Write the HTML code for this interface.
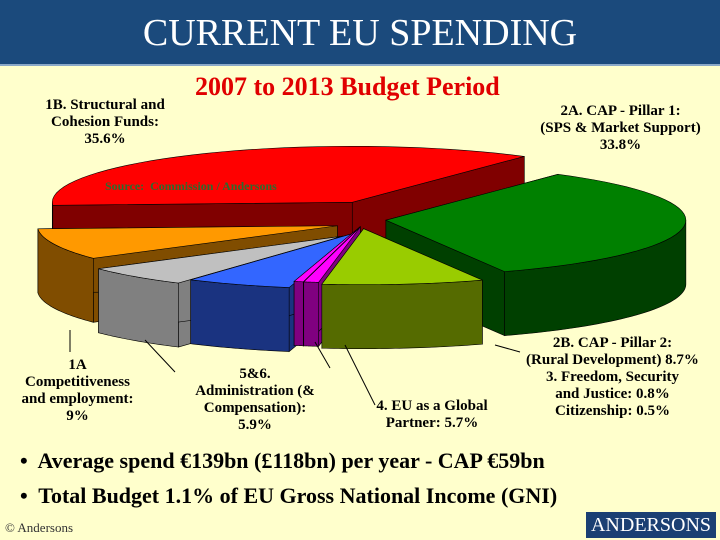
<!DOCTYPE html>
<html><head><meta charset="utf-8"><style>
body{margin:0;width:720px;height:540px;overflow:hidden;background:#ffffcc;font-family:"Liberation Serif",serif;position:relative}
.t{position:absolute;font-weight:bold;color:#000;text-align:center;line-height:17px;font-size:15px}
</style></head><body>
<div style="position:absolute;left:0;top:0;width:720px;height:64px;background:#1b4a7c;border-bottom:2px solid #8aa8c8"></div>
<div style="position:absolute;left:0;top:10px;width:720px;text-align:center;color:#fff;font-size:38px;line-height:46px">CURRENT EU SPENDING</div>
<div style="position:absolute;left:195px;top:72px;color:#e00000;font-weight:bold;font-size:26px">2007 to 2013 Budget Period</div>
<svg id="pie" width="720" height="540" style="position:absolute;left:0;top:0"></svg>
<div class="t" style="left:25px;top:97px;width:160px">1B. Structural and Cohesion Funds:<br>35.6%</div>
<div class="t" style="left:518px;top:103px;width:205px">2A. CAP - Pillar 1:<br>(SPS &amp; Market Support)<br>33.8%</div>
<div style="position:absolute;left:105px;top:179px;color:#2e6a2e;font-weight:bold;font-size:12px">Source:&nbsp; Commission / Andersons</div>
<div class="t" style="left:10px;top:357px;width:135px">1A<br>Competitiveness<br>and employment:<br>9%</div>
<div class="t" style="left:180px;top:366px;width:150px">5&amp;6.<br>Administration (&amp;<br>Compensation):<br>5.9%</div>
<div class="t" style="left:362px;top:398px;width:140px">4. EU as a Global Partner: 5.7%</div>
<div class="t" style="left:505px;top:335px;width:215px">2B. CAP - Pillar 2:<br>(Rural Development) 8.7%<br>3. Freedom, Security<br>and Justice: 0.8%<br>Citizenship: 0.5%</div>
<div style="position:absolute;left:20px;top:448px;font-weight:bold;font-size:22px">•&nbsp; Average spend €139bn (£118bn) per year - CAP €59bn</div>
<div style="position:absolute;left:20px;top:483px;font-weight:bold;font-size:22px">•&nbsp; Total Budget 1.1% of EU Gross National Income (GNI)</div>
<div style="position:absolute;left:5px;top:520px;font-size:13px;color:#333">© Andersons</div>
<div style="position:absolute;left:586px;top:512px;width:130px;height:26px;background:#1b3f73;color:#fff;font-size:20px;text-align:center;line-height:27px">ANDERSONS</div>
<script>
const categories=["CAP Pillar 1","CAP Pillar 2","Freedom Security Justice","Citizenship","Global Partner","Administration","Competitiveness","Structural Cohesion"];
const values=[33.8,8.7,0.8,0.5,5.7,5.9,9,35.6];
const topColors=["#008000","#99cc00","#ff00ff","#ff00ff","#3366ff","#c0c0c0","#ff9900","#ff0000"];
const sideColors=["#004000","#556b00","#800080","#800080","#1a3380","#808080","#804d00","#800000"];
const svg=document.getElementById('pie');const NS="http://www.w3.org/2000/svg";
const cx=362,cy=218,rx=300,ry=56,depth=64,startDeg=-55,explode=[24,12,10,10,18,28,26,20];
const total=values.reduce((a,b)=>a+b,0);
function pt(x0,y0,a,dy){return [x0+rx*Math.cos(a),y0+ry*Math.sin(a)+(dy||0)];}
function poly(pts,fill,name){const p=document.createElementNS(NS,'polygon');p.setAttribute('points',pts.map(q=>q.join(',')).join(' '));p.setAttribute('fill',fill);p.setAttribute('stroke','#000');p.setAttribute('stroke-width','0.6');


svg.appendChild(p);}
let acc=startDeg*Math.PI/180;const slices=[];
values.forEach((v,i)=>{const a0=acc,a1=acc+v/total*2*Math.PI;acc=a1;const m=(a0+a1)/2;slices.push({i,a0,a1,m,ox:cx+explode[i]*Math.cos(m),oy:cy+explode[i]*0.9*Math.sin(m)});});
slices.slice().sort((a,b)=>Math.sin(a.m)-Math.sin(b.m)).forEach(s=>{
 const {i,a0,a1,ox,oy}=s;const N=40;
 [a0,a1].forEach((a,k)=>{const e=pt(ox,oy,a);poly([[ox,oy],e,[e[0],e[1]+depth],[ox,oy+depth]],sideColors[i],'slice-side-'+k+'-'+i);});
 const segs=[[Math.max(a0,0),Math.min(a1,Math.PI)],[Math.max(a0,2*Math.PI),Math.min(a1,3*Math.PI)]];
 segs.forEach(([l,h])=>{if(h>l){const top=[],bot=[];for(let j=0;j<=N;j++){const a=l+(h-l)*j/N;top.push(pt(ox,oy,a));bot.push(pt(ox,oy,a,depth));}poly(top.concat(bot.reverse()),sideColors[i],'slice-wall-'+i);}});
 const face=[[ox,oy]];for(let j=0;j<=N;j++){face.push(pt(ox,oy,a0+(a1-a0)*j/N));}
 poly(face,topColors[i],'slice-top-'+i);
});
[[70,330,70,352],[145,340,175,372],[315,342,330,368],[345,345,375,405],[495,345,520,352]].forEach(l=>{const e=document.createElementNS(NS,'line');e.setAttribute('x1',l[0]);e.setAttribute('y1',l[1]);e.setAttribute('x2',l[2]);e.setAttribute('y2',l[3]);e.setAttribute('stroke','#000');


svg.appendChild(e);});
</script>
</body></html>
